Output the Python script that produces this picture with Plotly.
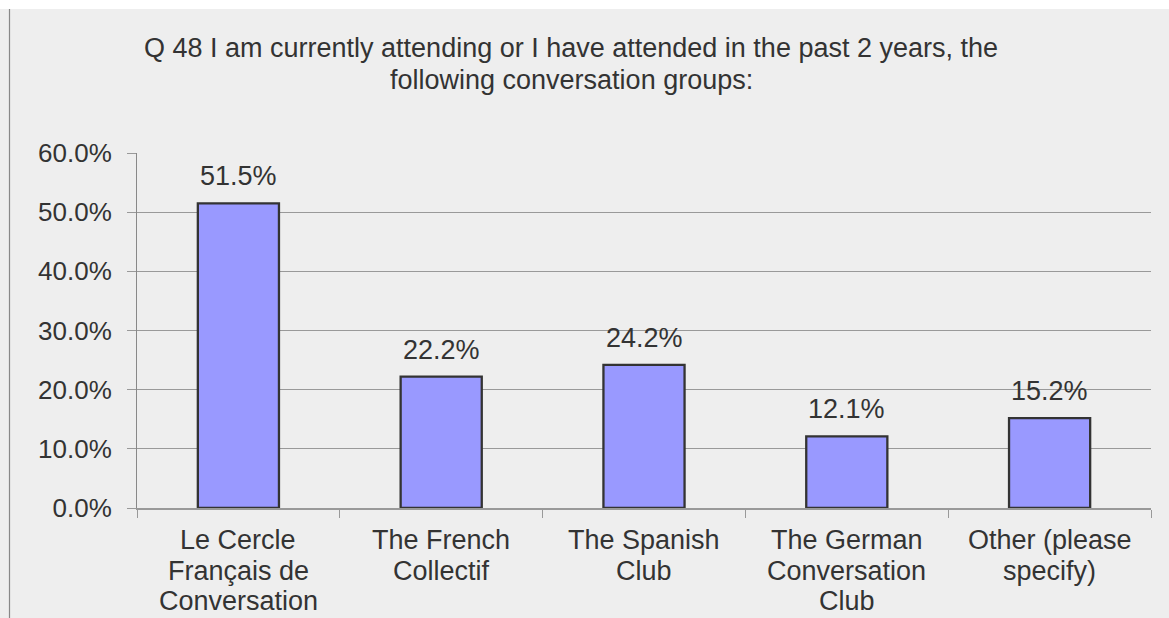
import plotly.graph_objects as go

# Survey question Q48: share of respondents per conversation group
categories = [
    "Le Cercle Français de Conversation",
    "The French Collectif",
    "The Spanish Club",
    "The German Conversation Club",
    "Other (please specify)",
]
category_lines = [
    ["Le Cercle", "Français de", "Conversation"],
    ["The French", "Collectif"],
    ["The Spanish", "Club"],
    ["The German", "Conversation", "Club"],
    ["Other (please", "specify)"],
]
values = [51.5, 22.2, 24.2, 12.1, 15.2]
y_ticks = [0, 10, 20, 30, 40, 50, 60]
y_tick_labels = ["0.0%", "10.0%", "20.0%", "30.0%", "40.0%", "50.0%", "60.0%"]
title_lines = [
    "Q 48 I am currently attending or I have attended in the past 2 years, the",
    "following conversation groups:",
]

W, H = 1169, 618
L, R, T, B = 137, 18, 153, 110
plot_w = W - L - R
plot_h = H - T - B


def px_to_paper_x(px):
    return (px - L) / plot_w


def px_to_paper_y(py):
    return (H - B - py) / plot_h


text_color = "#333333"
font_family = "Liberation Sans, Arial, sans-serif"
label_font = dict(size=27, color=text_color, family=font_family)
tick_font = dict(size=26, color=text_color, family=font_family)

fig = go.Figure()
fig.add_trace(go.Bar(
    x=categories,
    y=values,
    width=0.4,
    marker=dict(color="#9999ff", line=dict(color="#333333", width=2.3)),
    hoverinfo="x+y",
))

annotations = []
# value labels above the bars
for c, v in zip(categories, values):
    annotations.append(dict(
        x=c, y=v, xref="x", yref="y",
        text=f"{v:.1f}%", showarrow=False,
        yanchor="middle", yshift=27,
        font=label_font,
    ))

# multi-line category labels under the axis
line_step = 30.5
first_line_offset = 32
for c, lines in zip(categories, category_lines):
    for i, line in enumerate(lines):
        annotations.append(dict(
            x=c, y=0, xref="x", yref="y",
            text=line, showarrow=False,
            xanchor="center", yanchor="middle",
            yshift=-(first_line_offset + i * line_step),
            font=label_font,
        ))

# chart title, two centred lines
for i, line in enumerate(title_lines):
    annotations.append(dict(
        x=px_to_paper_x(571), y=px_to_paper_y(48 + i * 32),
        xref="paper", yref="paper",
        xanchor="center", yanchor="middle",
        text=line, showarrow=False,
        font=label_font,
    ))

shapes = [
    # white strip along the top edge
    dict(type="rect", xref="paper", yref="paper",
         x0=px_to_paper_x(0), x1=px_to_paper_x(W),
         y0=px_to_paper_y(9), y1=px_to_paper_y(0),
         fillcolor="white", line=dict(width=0), layer="below"),
    # left frame line
    dict(type="line", xref="paper", yref="paper",
         x0=px_to_paper_x(9.5), x1=px_to_paper_x(9.5),
         y0=px_to_paper_y(9), y1=px_to_paper_y(H),
         line=dict(color="#888888", width=1.2), layer="below"),
]

fig.update_layout(
    width=W, height=H,
    margin=dict(l=L, r=R, t=T, b=B, pad=0),
    paper_bgcolor="#eeeeee",
    plot_bgcolor="#eeeeee",
    showlegend=False,
    annotations=annotations,
    shapes=shapes,
    font=dict(family=font_family, color=text_color, size=26),
)

fig.update_xaxes(
    type="category",
    showgrid=False,
    showline=True, linecolor="#999999", linewidth=1.5,
    ticks="outside", tickson="boundaries", ticklen=8, tickcolor="#999999",
    showticklabels=False,
    zeroline=False,
)

fig.update_yaxes(
    range=[0, 60],
    tickvals=y_ticks, ticktext=y_tick_labels,
    showgrid=True, gridcolor="#999999", gridwidth=1,
    showline=True, linecolor="#888888", linewidth=1,
    ticks="outside", ticklen=9, tickcolor="#999999",
    ticklabelstandoff=10,
    tickfont=tick_font,
    zeroline=False,
)

fig.write_html("out.html")
